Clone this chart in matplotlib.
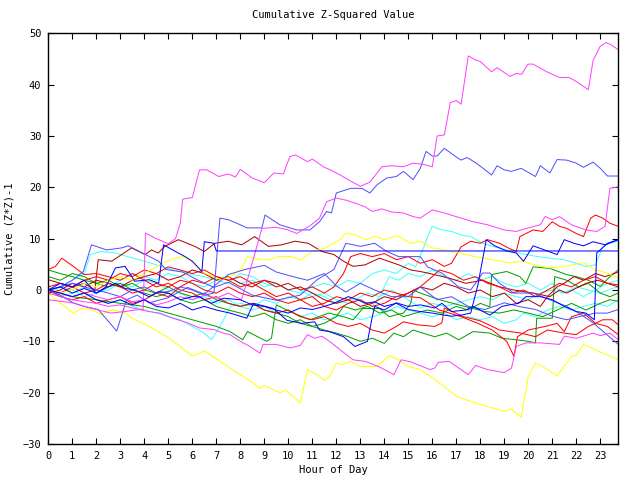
import matplotlib
matplotlib.use('Agg')
import matplotlib.pyplot as plt

plt.rcParams['font.family'] = ['DejaVu Sans Mono']

# colours used by the walks
MAG = '#ff40ff'
LBLUE = '#5050ff'
DBLUE = '#0000ff'
RED = '#ff0000'
DRED = '#b00000'
GREEN = '#00a000'
CYAN = '#40ffff'
YELLOW = '#ffff00'

# (hour, cumulative z*z-1)
m_top = [(0, -0.6), (0.5, -1.3), (1, -1.9), (1.5, -2.3), (2, -2.6), (2.5, -3.2), (3, -2.9), (3.5, -3.5),
         (3.95, -3.9), (4.05, 11.1), (4.5, 10.0), (5.0, 9.0), (5.3, 10.0), (5.5, 13.0), (5.6, 17.7), (6.0, 18.0),
         (6.3, 23.4), (6.6, 23.4), (7.1, 22.1), (7.5, 22.6), (7.8, 22.0), (8.0, 23.5), (8.5, 21.8), (9.0, 20.9),
         (9.4, 22.8), (9.8, 22.6), (9.9, 24.0), (10.07, 26.0), (10.3, 26.3), (10.8, 25.0), (11.0, 25.5),
         (11.5, 23.9), (11.7, 23.5), (12.2, 22.3), (12.6, 21.2), (13.0, 20.2), (13.4, 21.0), (13.9, 24.0),
         (14.3, 24.2), (14.8, 24.0), (15.2, 24.7), (15.6, 24.5), (16.0, 24.0), (16.2, 30.0), (16.5, 30.2),
         (16.75, 36.5), (17.0, 36.9), (17.2, 36.2), (17.5, 45.6), (17.8, 44.8), (18.0, 44.5), (18.47, 42.5),
         (18.7, 43.3), (19.24, 41.6), (19.5, 42.2), (19.72, 42.0), (19.99, 44.0), (20.2, 44.0), (20.77, 42.5),
         (21.3, 41.4), (21.7, 41.4), (22.0, 40.6), (22.5, 39.0), (22.7, 44.7), (23.0, 47.5), (23.24, 48.2),
         (23.47, 47.7), (23.75, 46.8)]

m_mid = [(0, 0), (0.5, -0.6), (1, -1.3), (1.5, -0.6), (2, -1.3), (2.5, -1.9), (3, -1.3), (3.5, -2.3), (4, -1.9),
         (4.5, -2.9), (5, -2.3), (5.5, -1.3), (6, -1.9), (6.5, -1.0), (7, -1.6), (7.5, -0.6), (8.05, -1.9),
         (8.3, 2.0), (8.9, 12.0), (9.5, 12.2), (10.0, 11.7), (10.35, 11.0), (10.9, 12.5), (11.3, 14.0),
         (11.6, 17.2), (12.0, 17.9), (12.4, 17.5), (12.8, 16.9), (13.2, 16.2), (13.5, 15.3), (13.9, 15.8),
         (14.3, 15.2), (14.8, 15.0), (15.2, 14.3), (15.5, 14.0), (16.0, 15.6), (16.5, 15.0), (17.2, 14.0),
         (17.7, 13.3), (18.3, 12.7), (19.0, 11.7), (19.5, 11.4), (20.0, 12.1), (20.5, 12.7), (20.7, 14.3),
         (21.0, 13.7), (21.3, 14.3), (21.8, 12.7), (22.4, 11.7), (22.85, 11.4), (23.2, 12.4), (23.4, 19.8),
         (23.75, 20.1)]

m_low = [(0, -1.9), (0.5, -2.2), (1.0, -2.5), (1.5, -3.2), (2.0, -3.8), (2.6, -4.5), (3.2, -4.2), (3.8, -3.8),
         (4.2, -4.2), (4.65, -4.5), (5.2, -5.5), (5.8, -6.4), (6.3, -7.4), (6.9, -7.7), (7.3, -8.4), (7.57, -8.7),
         (8.0, -10.0), (8.4, -11.0), (8.82, -12.3), (8.95, -10.6), (9.5, -10.6), (10.07, -11.3), (10.5, -10.8),
         (10.8, -8.7), (11.1, -9.4), (11.4, -9.0), (11.8, -10.3), (12.2, -11.8), (12.7, -13.6), (13.2, -13.9),
         (13.8, -15.0), (14.4, -16.5), (14.7, -13.6), (15.1, -14.0), (15.9, -15.5), (16.1, -15.2),
         (16.25, -14.1), (16.7, -13.9), (17.5, -16.5), (17.8, -14.7), (18.3, -15.5), (19.0, -16.1),
         (19.3, -15.2), (19.5, -11.0), (19.9, -10.3), (20.5, -10.3), (21.3, -10.6), (21.5, -9.0), (22.0, -9.4),
         (22.7, -8.4), (23.0, -8.9), (23.4, -8.4), (23.75, -9.7)]

b_top = [(0, 0), (0.5, 0.6), (1, 1.3), (1.5, 0.6), (2, 0), (2.5, -0.6), (3, -1.3), (3.5, 0), (4, 0.6),
         (4.5, -0.6), (5, -0.3), (5.5, 0.6), (6, 0), (6.5, -1.0), (6.9, -0.6), (7.15, 14.0), (7.5, 13.7),
         (8.0, 12.7), (8.27, 12.1), (8.9, 12.1), (9.03, 14.6), (9.65, 12.7), (10.35, 11.7), (10.9, 11.7),
         (11.3, 13.3), (11.6, 15.3), (11.8, 15.0), (12.0, 18.9), (12.6, 19.8), (13.06, 19.8), (13.4, 18.9),
         (13.7, 20.5), (14.1, 21.8), (14.5, 22.1), (14.8, 23.1), (15.2, 21.5), (15.5, 23.7), (15.74, 27.0),
         (16.0, 26.1), (16.2, 26.1), (16.5, 27.6), (17.0, 25.9), (17.2, 25.3), (17.45, 25.8), (17.8, 24.8),
         (18.2, 23.4), (18.47, 22.4), (18.7, 24.2), (19.0, 23.4), (19.3, 23.1), (19.7, 23.7), (20.3, 22.1),
         (20.5, 24.2), (20.9, 22.8), (21.2, 25.4), (21.6, 25.3), (22.0, 24.7), (22.3, 23.9), (22.7, 24.9),
         (23.0, 23.7), (23.3, 22.2), (23.75, 22.2)]

b_mid = [(0, 0), (0.5, 0.6), (1.0, 1.9), (1.46, 3.6), (1.8, 8.8), (2.43, 7.8), (3.06, 8.2), (3.33, 8.6),
         (3.8, 7.5), (4.6, 5.6), (4.9, 4.0), (5.6, 3.5), (6.2, 2.0), (6.9, 0.5), (7.5, 1.5), (8.5, -1.0),
         (9.5, -2.0), (10.5, -1.0), (11.2, 2.0), (11.9, 4.0), (12.4, 9.1), (13.0, 8.5), (13.6, 9.1), (14.1, 7.5),
         (14.6, 6.5), (15.5, 6.5), (15.8, 4.5), (16.4, 3.3), (17.1, 0.6), (17.6, 0), (18.1, 3.3), (18.4, 3.3),
         (18.8, 1.3), (19.4, -0.6), (20.2, -0.6), (20.9, -1.9), (21.6, -3.2), (22.1, -4.5), (22.7, -6.4),
         (23.2, -8.4), (23.75, -10.6)]

b_low = [(0, 0), (0.5, -1.0), (1.04, -2.5), (1.5, -3.2), (2.08, -3.8), (2.85, -8.0), (3.26, -1.9), (3.7, -1.0),
         (4.2, -2.5), (5.0, -1.5), (5.8, 0.5), (6.5, -0.8), (7.1, 1.5), (7.5, 3.0), (8.2, 4.0), (9.0, 4.8),
         (9.5, 3.5), (10.2, 2.6), (10.8, 1.9), (11.5, 3.2), (12.0, 0.8), (12.4, -0.4), (13.0, 1.3), (13.6, 0),
         (14.3, -1.3), (15.0, -1.3), (15.5, 0.6), (16.2, -1.9), (16.8, -1.3), (17.5, -3.2), (18.2, -3.8),
         (19.0, -2.5), (19.6, -3.2), (20.3, -3.8), (21.0, -5.1), (21.6, -5.8), (22.2, -5.1), (22.8, -4.5),
         (23.3, -4.5), (23.75, -3.8)]

db_flat = [(0, 0), (0.5, 1.3), (1, 0.6), (1.5, 1.9), (2, -0.6), (2.4, 0.6), (2.8, 4.3), (3.2, 4.6), (3.6, 1.7),
           (4.2, 2.0), (4.6, 1.3), (4.8, 8.8), (5.3, 7.5), (5.7, 6.5), (6.0, 5.6), (6.4, 3.6), (6.5, 9.4),
           (6.9, 9.1), (7.0, 7.6), (23.75, 7.6)]

db_climb = [(0, 0), (0.5, -0.6), (1, -1.3), (1.5, -0.6), (2, -1.9), (2.5, -2.6), (3, -1.9), (3.5, -2.9),
            (4, -1.9), (4.5, -3.2), (5, -3.5), (5.5, -2.6), (6, -3.9), (6.5, -3.2), (7, -3.9), (7.57, -4.5),
            (8.27, -5.5), (8.55, -2.6), (9.38, -3.6), (9.94, -5.9), (10.56, -6.5), (11.1, -6.2), (11.3, -7.8),
            (11.7, -8.1), (12.3, -9.1), (12.78, -11.0), (13.3, -10.0), (13.5, -5.2), (13.6, -3.2), (14.0, -3.9),
            (14.5, -2.5), (15.0, -3.2), (15.5, -2.9), (16.1, -3.5), (16.4, -2.6), (16.8, -4.2), (17.4, -3.9),
            (17.7, -3.2), (18.4, -4.9), (18.9, -3.2), (19.2, -2.9), (19.6, -2.6), (19.9, -1.3), (20.5, -1.3),
            (21.0, -1.9), (21.5, -3.2), (22.0, -4.2), (22.4, -4.5), (22.75, -5.8), (22.85, 7.2), (23.3, 9.1),
            (23.75, 9.8)]

db_spike = [(0, 0), (0.5, 0.6), (1, -0.6), (1.5, 0.3), (2, -0.6), (2.5, 0.6), (2.8, 1.3), (3.2, 0.3), (3.6, 0),
            (4.2, -1.3), (4.6, -0.3), (5, -0.6), (5.5, -1.9), (6, -1.3), (6.3, -1.3), (6.8, -2.6), (7.3, -1.6),
            (8, -1.9), (8.5, -2.9), (9, -3.2), (9.5, -3.9), (10, -4.5), (10.5, -3.5), (11, -3.8), (11.5, -3.2),
            (11.9, -2.6), (12.5, -1.3), (12.9, -1.9), (13.2, -2.6), (13.6, -2.3), (14, -3.2), (14.5, -2.6),
            (15, -3.8), (15.5, -4.2), (16, -4.5), (16.5, -4.9), (16.8, -5.1), (17.2, -4.9), (17.6, -4.5),
            (17.9, 1.0), (18.25, 9.8), (18.6, 8.6), (19.1, 7.6), (19.5, 7.2), (19.8, 5.6), (20.2, 8.6),
            (20.5, 8.1), (21.2, 6.9), (21.5, 9.8), (21.9, 9.1), (22.3, 8.6), (22.7, 9.4), (23.2, 8.8), (23.75, 9.8)]

r_top = [(0, 0.6), (0.5, 1.3), (1, 0.6), (1.5, 1.9), (2, 2.6), (2.5, 1.9), (3, 3.2), (3.5, 2.6), (4, 3.9),
         (4.5, 3.2), (5, 4.5), (5.5, 3.9), (6, 3.2), (6.5, 3.9), (7, 2.6), (7.5, 1.9), (8, 2.6), (8.5, 1.3),
         (9, 1.9), (9.5, 0.6), (10, 1.3), (10.5, 0), (11, 0.6), (11.5, -0.6), (11.9, 0.6), (12.3, 3.2),
         (12.6, 6.5), (13, 7.1), (13.5, 6.5), (14, 7.1), (14.5, 5.9), (15, 6.5), (15.5, 5.2), (16, 5.9),
         (16.5, 4.6), (16.8, 5.2), (17.2, 8.4), (17.6, 9.5), (18.0, 9.1), (18.3, 9.8), (18.8, 9.1), (19.2, 8.1),
         (19.5, 7.5), (19.65, 10.4), (20.2, 11.7), (20.6, 11.4), (21.0, 13.3), (21.3, 12.4), (21.6, 12.0),
         (22.0, 11.0), (22.3, 10.4), (22.6, 14.0), (22.8, 14.6), (23.1, 14.0), (23.4, 13.0), (23.75, 12.4)]

r_dip = [(0, 0), (0.5, -0.6), (1, 0.6), (1.5, -0.6), (2, 0), (2.5, 1.3), (3, 0.6), (3.5, -0.6), (4, 0),
         (4.5, 1.3), (5, 0.6), (5.5, 1.9), (6, 1.3), (6.5, 0), (7, -0.6), (7.5, 0.6), (8, -0.6), (8.5, -1.3),
         (9, -0.6), (9.5, -1.9), (10, -2.6), (10.5, -1.9), (11, -3.2), (11.5, -2.6), (12, -1.3), (12.5, -1.9),
         (13, -0.6), (13.5, -1.3), (14, 0), (14.5, -0.6), (15, -1.3), (15.5, -1.5), (16.3, -3.9), (17.2, -5.2),
         (17.9, -6.5), (18.5, -7.8), (19.1, -10.0), (19.4, -12.9), (19.55, -9.1), (20.0, -7.8), (20.7, -7.1),
         (21.2, -6.5), (21.5, -8.1), (21.8, -5.2), (22.3, -4.5), (22.8, -6.5), (23.1, -5.8), (23.5, -5.8),
         (23.75, -6.8)]

r_fall = [(0, 4.0), (0.3, 4.6), (0.56, 6.2), (1.04, 4.6), (1.5, 3.0), (2, 3.2), (2.5, 2.6), (3, 1.9),
          (3.5, 3.2), (4, 1.9), (4.5, 0.6), (5, 1.3), (5.5, 0), (6, -0.6), (6.5, -1.9), (7, -1.3), (7.5, -2.6),
          (8, -3.2), (8.5, -2.6), (9, -3.9), (9.5, -4.5), (10, -3.9), (10.5, -5.2), (11, -5.8), (11.5, -5.2),
          (12, -6.5), (12.5, -7.1), (13, -6.5), (13.5, -7.8), (14, -8.4), (14.5, -7.1), (14.8, -6.2),
          (15.4, -6.8), (16.1, -7.1), (16.4, -6.4), (16.5, -3.5), (17.3, -5.2), (18, -6.0), (18.8, -7.8),
          (19.7, -8.4), (20.3, -9.1), (20.8, -7.8), (21.5, -8.4), (22, -8.7), (22.5, -7.1), (22.8, -6.5),
          (23.3, -7.1), (23.75, -8.7)]

r_mid = [(0, 0), (0.5, -1.3), (1, -1.9), (1.5, -1.3), (2, -2.6), (2.5, -1.9), (3, -1.3), (3.5, -2.6),
         (4, -1.9), (4.5, -0.6), (5, -1.3), (5.5, 0.6), (6, 1.9), (6.5, 1.3), (7, 2.6), (7.5, 1.9), (8, 0.6),
         (8.5, 1.3), (9, 0), (9.5, -1.3), (10, -0.6), (10.5, -1.9), (11, -1.3), (11.5, -3.2), (12, -3.9),
         (12.5, -2.6), (13, -1.9), (13.5, -3.2), (14, -2.6), (14.5, -1.3), (15, -0.6), (15.5, 0.6), (16, 2.6),
         (16.3, 3.9), (16.8, 3.2), (17.3, 1.9), (17.8, 2.6), (18.3, 1.3), (18.8, 0.6), (19.3, -0.6),
         (19.8, 0), (20.3, -1.3), (20.8, 0), (21.3, 1.3), (21.8, 0.6), (22.3, 1.9), (22.8, 2.6), (23.3, 1.3),
         (23.75, 1.0)]

dr_high = [(0, 2.0), (0.5, 1.3), (1.0, 0.6), (1.5, 1.3), (1.94, 0), (2.08, 5.9), (2.64, 5.6), (3.47, 8.2),
           (4.03, 6.9), (4.3, 7.8), (4.58, 7.2), (4.86, 8.5), (5.42, 9.8), (6.1, 8.5), (6.5, 7.5), (6.94, 9.1),
           (7.5, 9.5), (8.06, 8.8), (8.6, 10.4), (9.17, 8.5), (9.72, 8.8), (10.28, 9.5), (10.83, 9.1),
           (11.4, 7.5), (11.9, 6.9), (12.3, 5.6), (12.7, 4.6), (13.2, 4.9), (13.8, 6.2), (14.6, 4.9),
           (15.1, 3.9), (15.5, 3.6), (15.9, 3.2), (16.7, 2.3), (17.4, 1.3), (18.1, 1.9), (18.8, 0.6), (19.4, 0),
           (20.2, -0.6), (20.9, -1.3), (21.3, 0), (21.6, -0.6), (22.1, 0.6), (22.4, 1.3), (22.9, 1.9),
           (23.75, 0.6)]

dr_low = [(0, -0.6), (0.5, 0), (1, 1.3), (1.5, 0.6), (2, 1.9), (2.5, 1.3), (3, 0.6), (3.5, 1.9), (4, 2.6),
          (4.5, 3.2), (5, 1.9), (5.5, 2.6), (6, 3.9), (6.5, 3.2), (7, 1.9), (7.5, 2.6), (8, 1.3), (8.5, 0.6),
          (9, 1.9), (9.5, 1.3), (10, 0), (10.5, 0.6), (11, -0.6), (11.5, -1.9), (12, -2.6), (12.5, -1.9),
          (13, -3.2), (13.5, -2.6), (14, -1.3), (14.5, -1.9), (15, -0.6), (15.5, 0.6), (16, 0), (16.5, 1.3),
          (17, 0.6), (17.5, -0.6), (18, 0), (18.5, -1.3), (19, -0.6), (19.5, -2.6), (20, -1.9), (20.5, -3.2),
          (20.8, -1.3), (21.2, 0.6), (21.5, 1.3), (21.9, 2.6), (22.3, 1.9), (22.8, 3.2), (23.2, 2.6),
          (23.75, 3.5)]

g_step = [(0, 3.9), (0.5, 3.2), (1, 2.6), (1.5, 1.9), (2, 1.3), (2.5, 0.6), (3, 1.3), (3.5, 0), (4, -0.6),
          (4.5, -1.3), (5, -0.6), (5.5, -1.9), (6, -2.6), (6.5, -1.9), (7, -3.2), (7.5, -3.9), (8, -4.5),
          (8.5, -5.2), (9, -4.5), (9.5, -5.8), (10, -6.5), (10.5, -5.8), (11, -7.1), (11.5, -6.5), (12, -5.2),
          (12.3, -3.2), (12.8, -3.9), (13.3, -3.2), (13.8, -4.5), (14.3, -3.9), (14.8, -5.2), (15.3, -4.5),
          (15.8, -3.9), (16.4, -4.5), (17, -3.2), (17.5, -3.9), (18, -2.6), (18.4, -3.3), (18.47, 3.0),
          (19.1, 3.6), (19.65, 2.6), (19.9, 1.3), (20.2, 4.5), (20.9, 4.2), (21.6, 3.0), (22.0, 2.6),
          (22.5, 1.9), (23.0, 0.7), (23.4, 2.6), (23.75, 3.9)]

g_low = [(0, 2.6), (0.5, 1.9), (1, 3.2), (1.5, 2.6), (2, 1.3), (2.5, 1.9), (3, 0.6), (3.5, 1.3), (4, 0),
         (4.5, -0.6), (5, 0.6), (5.5, -0.6), (6, -1.3), (6.5, -0.6), (7, -1.9), (7.5, -2.6), (8, -3.2),
         (8.5, -2.6), (9, -3.9), (9.5, -4.5), (10, -5.2), (10.5, -6.5), (11, -7.1), (11.5, -7.8), (12, -8.4),
         (12.5, -9.1), (13, -10.0), (13.5, -9.4), (14, -10.4), (14.4, -8.4), (14.8, -9.1), (15.2, -7.8),
         (15.6, -8.4), (16.1, -9.1), (16.6, -8.4), (17.1, -9.7), (17.7, -8.1), (18.4, -8.4), (18.9, -9.4),
         (19.5, -9.7), (20.0, -10.0), (20.3, -10.3), (20.35, -5.5), (21.0, -5.5), (21.1, 2.6), (21.6, 1.9),
         (22.1, 0.6), (22.5, 1.3), (23.0, -0.6), (23.4, -1.3), (23.75, -0.6)]

g_mid = [(0, 0), (1, -1.3), (2, -1.9), (3, -2.6), (4, -3.2), (5, -4.5), (6, -5.8), (7, -7.1), (7.57, -8.1),
         (8.1, -9.7), (8.3, -8.1), (9.1, -10.0), (9.3, -9.4), (9.5, -2.9), (10.07, -4.2), (10.9, -5.8),
         (11.7, -4.5), (12.3, -5.2), (12.7, -5.8), (13.1, -3.6), (13.8, -3.6), (14.2, -5.2), (14.8, -4.5),
         (15.1, -2.6), (15.2, 0), (15.5, -0.6), (16.3, -1.9), (17.1, -2.9), (18.2, -4.2), (18.8, -4.5),
         (19.4, -3.9), (20.0, -4.5), (20.6, -5.2), (21.2, -3.9), (21.8, -2.6), (22.4, -3.9), (23.0, -2.6),
         (23.4, -1.9), (23.75, -2.2)]

c_dip = [(0, 0.6), (0.5, -0.6), (1, -1.3), (1.5, -0.6), (2, -1.9), (2.5, -2.6), (3, -1.9), (3.5, -3.2),
         (4, -3.9), (4.5, -4.5), (5, -5.2), (5.5, -5.8), (6, -7.1), (6.5, -8.4), (6.8, -9.7), (7.15, -7.1),
         (7.6, -3.2), (8, -2.6), (8.5, -3.2), (9, -1.9), (9.5, -2.6), (10, -1.3), (10.5, -1.9), (11, -0.6),
         (11.5, -1.3), (12, -2.6), (12.5, -1.9), (12.8, -1.9), (13.3, -0.6), (13.8, -1.3), (14.3, 0),
         (14.8, -1.3), (15.5, -3.5), (16, -2.6), (16.5, -3.2), (17, -2.6), (17.5, -1.9), (18, -1.3),
         (18.5, -1.9), (19, -0.6), (19.5, -1.3), (20, -1.9), (20.5, -0.6), (21, 0), (21.5, -0.6), (22, 0.6),
         (22.5, 0), (23, -0.6), (23.5, 0.3), (23.75, 0.6)]

c_high = [(0, -0.6), (0.5, 0.6), (1, 1.9), (1.5, 3.2), (1.75, 6.9), (2.2, 7.5), (2.8, 7.2), (3.3, 6.5),
          (3.8, 5.9), (4.3, 5.2), (4.9, 4.3), (5.5, 3.6), (6.0, 3.0), (6.5, 2.6), (7, 1.9), (7.5, 2.6), (8, 1.3),
          (8.5, 1.9), (9, 0.6), (9.5, 1.3), (10, 0), (10.5, -0.6), (11, 0.6), (11.5, 1.3), (12, 0.6),
          (12.5, 1.9), (13, 1.3), (13.5, 3.2), (14, 3.9), (14.5, 3.2), (15, 5.2), (15.3, 4.5), (15.6, 7.8),
          (15.8, 10.4), (16.0, 12.4), (16.4, 11.7), (16.8, 11.4), (17.2, 10.7), (17.6, 10.4), (18.1, 9.1),
          (18.6, 8.4), (19.3, 7.5), (19.9, 6.9), (20.4, 6.5), (20.9, 6.2), (21.5, 5.9), (22, 5.2), (22.4, 4.6),
          (22.8, 4.9), (23.1, 8.4), (23.4, 9.1), (23.75, 9.5)]

c_mid = [(0, -0.3), (0.5, 0.6), (1, 0), (1.5, -1.3), (2, -0.6), (2.5, 0.6), (3, 1.9), (3.5, 3.2), (4, 2.6),
         (4.5, 1.9), (5, 3.2), (5.5, 2.6), (6, 1.3), (6.5, 0.6), (7, 1.9), (7.5, 1.3), (8, 3.2), (8.5, 2.6),
         (9, 1.3), (9.5, 0.6), (10, 1.3), (10.5, 0), (11, -1.3), (11.5, -0.6), (12, -1.9), (12.5, -2.6),
         (13, -1.9), (13.5, -3.2), (13.8, -1.3), (14.2, 2.6), (14.6, 1.9), (15, 3.2), (15.5, 2.6), (16, 3.9),
         (16.5, 2.6), (17, 1.9), (17.5, 3.2), (18, 1.9), (18.5, 2.6), (19, 1.3), (19.5, 0.6), (20, 1.3),
         (20.5, 0), (21, 1.3), (21.4, -0.6), (21.8, 0), (22.3, -1.3), (22.8, 0), (23.3, 1.3), (23.75, 1.9)]

c_low = [(0, 0), (0.5, -1.3), (1, -0.6), (1.5, 0.6), (2, -0.6), (2.5, 0), (3, 1.3), (3.5, 0.6), (4, 1.9),
         (4.5, 1.3), (5, 0), (5.5, -0.6), (6, -1.9), (6.5, -1.3), (7, -2.6), (7.5, -1.9), (8, -3.2), (8.5, -3.9),
         (9, -3.2), (9.5, -4.5), (10, -3.9), (10.5, -5.2), (11, -4.5), (11.5, -5.8), (12, -5.2), (12.5, -4.5),
         (13, -5.8), (13.5, -5.2), (14, -4.5), (14.5, -3.2), (15, -3.9), (15.5, -4.5), (16, -5.2), (16.5, -4.5),
         (17, -5.8), (17.5, -5.2), (18, -5.8), (18.5, -5.2), (19, -6.5), (19.5, -5.8), (19.8, -4.5),
         (20.3, -5.2), (20.8, -3.9), (21.3, -3.2), (21.8, -3.9), (22.3, -3.2), (22.8, -2.6), (23.3, -3.2),
         (23.75, -1.9)]

y_low = [(0, -0.6), (0.3, -1.9), (0.7, -3.2), (1.04, -4.6), (1.4, -3.5), (1.8, -3.8), (2.2, -4.8), (2.6, -3.9),
         (3.1, -4.2), (3.6, -5.8), (4.2, -7.1), (4.9, -9.0), (5.5, -11.0), (6.0, -12.9), (6.5, -11.9),
         (7.0, -13.4), (7.57, -15.2), (8.0, -16.5), (8.5, -18.0), (8.82, -19.1), (9.0, -18.6), (9.65, -20.0),
         (9.9, -19.5), (10.5, -22.0), (10.8, -15.5), (11.3, -16.8), (11.5, -17.6), (11.7, -17.0), (12.0, -14.3),
         (12.3, -14.5), (12.6, -13.9), (13.0, -14.9), (13.7, -14.9), (14.2, -12.8), (14.6, -13.6),
         (15.0, -14.9), (15.5, -15.5), (15.9, -16.8), (16.5, -18.8), (17.0, -20.7), (17.6, -21.7),
         (18.3, -22.7), (19.0, -23.6), (19.3, -23.2), (19.7, -24.8), (20.0, -16.8), (20.3, -14.2),
         (20.7, -15.2), (21.2, -16.7), (21.8, -12.9), (22.0, -12.7), (22.3, -10.6), (22.5, -11.0),
         (23.0, -12.1), (23.75, -13.6)]

y_mid = [(0, 0.6), (0.5, -0.6), (1, 0), (1.5, 1.3), (2, 0.6), (2.5, 1.9), (3, 2.6), (3.5, 1.9), (4, 3.2),
         (4.5, 4.5), (4.9, 5.6), (5.3, 6.2), (5.6, 6.5), (6.0, 5.6), (6.5, 3.3), (7.2, 2.0), (7.6, 2.6),
         (8.0, 3.9), (8.3, 6.5), (8.8, 5.9), (9.2, 5.9), (9.6, 6.5), (10.1, 6.5), (10.5, 5.9), (11.0, 7.5),
         (11.5, 8.1), (12.15, 9.8), (12.4, 11.1), (12.8, 10.7), (13.25, 9.8), (13.6, 10.5), (14.0, 9.8),
         (14.5, 10.6), (15.1, 9.1), (15.5, 9.5), (16.0, 8.2), (16.5, 7.8), (17.1, 7.2), (17.8, 6.5),
         (18.5, 5.9), (19.2, 5.3), (19.8, 5.6), (20.3, 4.8), (20.9, 4.3), (21.5, 4.6), (22.3, 5.3),
         (22.8, 3.9), (23.3, 3.3), (23.75, 2.3)]

series = [
    (c_low, CYAN), (c_mid, CYAN), (c_dip, CYAN), (c_high, CYAN),
    (g_mid, GREEN), (g_low, GREEN), (g_step, GREEN),
    (dr_low, DRED), (dr_high, DRED),
    (r_mid, RED), (r_fall, RED), (r_dip, RED), (r_top, RED),
    (y_mid, YELLOW), (y_low, YELLOW),
    (b_low, LBLUE), (b_mid, LBLUE), (b_top, LBLUE),
    (m_low, MAG), (m_mid, MAG), (m_top, MAG),
    (db_spike, DBLUE), (db_climb, DBLUE), (db_flat, DBLUE),
]

fig = plt.figure(figsize=(6.4, 4.8), dpi=100)
ax = fig.add_axes([48.3 / 640, 36 / 480, 570 / 640, 410.7 / 480])

for pts, col in series:
    hrs = [p[0] for p in pts]
    vals = [p[1] for p in pts]
    ax.plot(hrs, vals, color=col, lw=0.72, antialiased=True)

ax.set_xlim(0, 23.75)
ax.set_ylim(-30, 50)
ax.set_xticks(range(0, 24))
ax.set_yticks(range(-30, 51, 10))
ax.tick_params(direction='in', length=4, width=0.8, top=True, right=True, labelsize=7.5, pad=5)
for sp in ax.spines.values():
    sp.set_linewidth(1.0)

ax.set_title('Cumulative Z-Squared Value', fontsize=7.5, pad=11)
ax.set_xlabel('Hour of Day', fontsize=7.5, labelpad=3)
ax.set_ylabel('Cumulative (Z*Z)-1', fontsize=7.5, labelpad=6)

fig.savefig('out.png', dpi=100)
